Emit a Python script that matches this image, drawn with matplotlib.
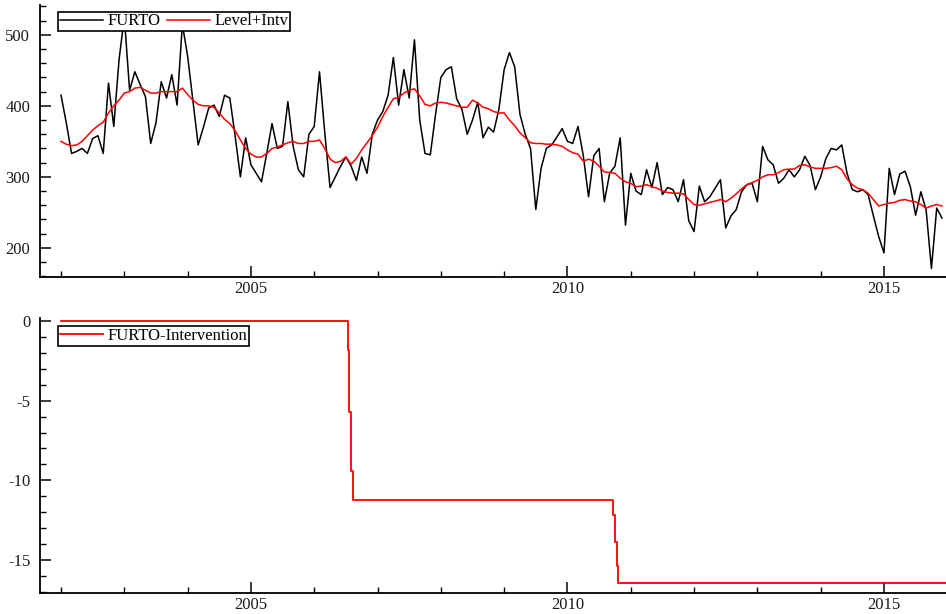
import numpy as np
import matplotlib
matplotlib.use("Agg")
from matplotlib import pyplot as plt
from matplotlib.ticker import MultipleLocator

plt.rcParams['font.family'] = ['Liberation Serif', 'DejaVu Serif']
plt.rcParams['axes.unicode_minus'] = False

# monthly data, Jan 2002 .. Dec 2015
start_year = 2002
furto = [415, 376, 333, 336, 340, 333, 354, 358, 333, 432, 371, 465,
         525, 422, 448, 430, 413, 347, 376, 434, 411, 444, 401, 515,
         470, 408, 345, 370, 397, 401, 385, 415, 411, 358, 300, 355,
         317, 305, 293, 333, 375, 340, 343, 406, 343, 310, 300, 360,
         371, 448, 362, 285, 300, 315, 328, 315, 295, 328, 305, 360,
         380, 392, 415, 468, 401, 451, 411, 493, 380, 333, 331, 388,
         440, 451, 455, 410, 395, 360, 380, 405, 355, 370, 363, 395,
         451, 475, 455, 388, 360, 340, 254, 312, 340, 345, 356, 368,
         350, 347, 371, 330, 272, 330, 340, 265, 305, 315, 355, 232,
         305, 280, 275, 310, 285, 320, 275, 285, 282, 265, 296, 238,
         223, 287, 265, 272, 284, 296, 228, 245, 254, 279, 289, 291,
         265, 343, 324, 317, 291, 298, 310, 300, 310, 329, 316, 282,
         300, 326, 340, 338, 345, 305, 282, 279, 282, 275, 245, 216,
         193, 312, 275, 304, 308, 286, 246, 279, 253, 171, 256, 242]

level_intv = [350, 346, 344, 345, 350, 358, 366, 372, 377, 390, 400, 408,
              418, 420, 425, 426, 422, 418, 418, 420, 420, 420, 420, 425,
              416, 408, 402, 400, 400, 398, 390, 381, 375, 365, 352, 340,
              332, 328, 328, 333, 340, 342, 345, 348, 350, 347, 347, 350,
              350, 352, 340, 325, 320, 322, 328, 318, 326, 338, 348, 358,
              370, 385, 398, 410, 412, 418, 422, 424, 414, 402, 400, 404,
              405, 404, 402, 400, 398, 398, 408, 404, 398, 396, 392, 390,
              390, 380, 372, 362, 355, 348, 347, 347, 346, 346, 345, 343,
              338, 334, 332, 322, 325, 322, 315, 307, 306, 305, 298, 293,
              291, 286, 287, 289, 286, 284, 280, 278, 277, 277, 276, 268,
              261, 260, 262, 264, 266, 268, 265, 270, 276, 283, 289, 292,
              295, 300, 303, 303, 306, 310, 311, 311, 316, 317, 314, 312,
              312, 312, 313, 315, 310, 297, 289, 284, 282, 277, 268, 259,
              261, 263, 264, 267, 268, 266, 265, 261, 256, 259, 261, 259]

# intervention effect (step changes)
intv_time = [2002.0, 2006.53, 2006.555, 2006.58, 2006.608,
             2010.725, 2010.752, 2010.779, 2010.804, 2016.2]
intv_value = [0.0, -1.8, -5.7, -9.4, -11.25,
              -12.2, -13.9, -15.4, -16.45, -16.45]

t = start_year + np.arange(len(furto)) / 12.0

fig = plt.figure(figsize=(9.46, 6.14), dpi=100)
ax1 = fig.add_axes([40/946, 1-277/614, 906/946, 272/614])
ax2 = fig.add_axes([40/946, 1-593/614, 906/946, 275/614])

ax1.plot(t, furto, color='black', lw=1.1, label='FURTO')
ax1.plot(t, level_intv, color='red', lw=1.1, label='Level+Intv')
ax2.step(intv_time, intv_value, where='post', color='red', lw=1.3,
         label='FURTO-Intervention')

ax1.set_ylim(159, 542)
ax2.set_ylim(-17.07, 0.19)

for ax in (ax1, ax2):
    ax.set_xlim(2001.668, 2015.98)
    ax.spines['top'].set_visible(False)
    ax.spines['right'].set_visible(False)
    ax.spines['left'].set_linewidth(1.3)
    ax.spines['bottom'].set_linewidth(1.3)
    ax.xaxis.set_major_locator(MultipleLocator(5))
    ax.xaxis.set_minor_locator(MultipleLocator(1))
    ax.tick_params(which='major', direction='in', length=8, width=1.2,
                   labelsize=12, colors='#1a1a1a')
    ax.tick_params(which='minor', direction='in', length=4.5, width=1.0)
    ax.tick_params(axis='y', which='major', pad=7)
    ax.tick_params(axis='x', which='major', pad=3)

ax1.yaxis.set_major_locator(MultipleLocator(100))
ax1.yaxis.set_minor_locator(MultipleLocator(20))
ax2.yaxis.set_major_locator(MultipleLocator(5))
ax2.yaxis.set_minor_locator(MultipleLocator(1))

leg1 = ax1.legend(loc='upper left', bbox_to_anchor=(0.02, 0.975), ncol=2,
                  fancybox=False, edgecolor='black', framealpha=1,
                  fontsize=12, handlelength=2.6, borderpad=0.1,
                  columnspacing=0.4, handletextpad=0.25, borderaxespad=0)
leg1.get_frame().set_linewidth(1.2)
leg2 = ax2.legend(loc='upper left', bbox_to_anchor=(0.02, 0.97),
                  fancybox=False, edgecolor='black', framealpha=1,
                  fontsize=12, handlelength=2.6, borderpad=0.1,
                  handletextpad=0.25, borderaxespad=0)
leg2.get_frame().set_linewidth(1.2)

fig.savefig('out.png', dpi=100)
